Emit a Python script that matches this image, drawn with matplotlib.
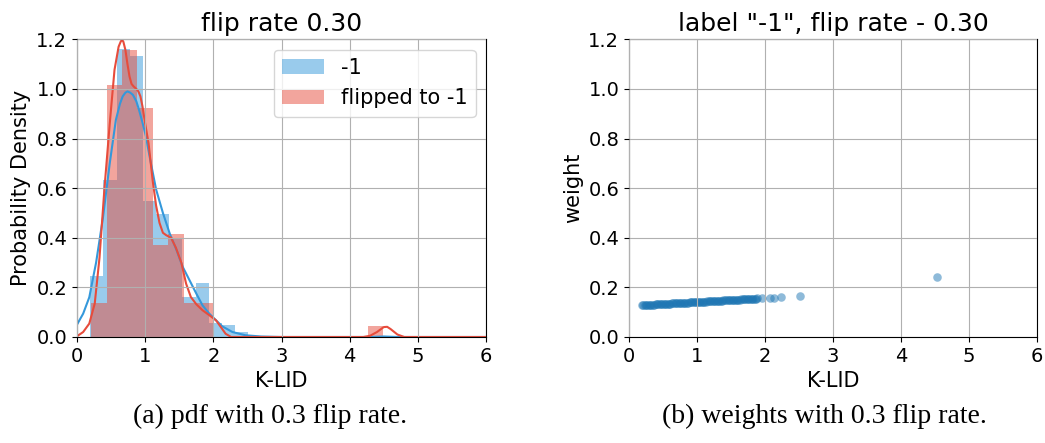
import numpy as np
import matplotlib
matplotlib.use("Agg")
import matplotlib.pyplot as plt

# histogram of K-LID for label "-1" (density)
blue_start = 0.194
blue_width = 0.1933
blue_heights = [0.245, 0.633, 1.16, 1.133, 0.55, 0.495, 0.40, 0.161, 0.218, 0.055,
                0.05, 0.02, 0, 0, 0, 0, 0, 0, 0, 0, 0, 0, 0.004]

# histogram of K-LID for samples flipped to "-1"
red_start = 0.21
red_width = 0.2255
red_heights = [0.135, 1.016, 1.155, 0.922, 0.37, 0.415, 0.135, 0.135, 0, 0,
               0, 0, 0, 0, 0, 0, 0, 0, 0.045]

# kde curves
blue_kde_x = [0.0, 0.09, 0.18, 0.28, 0.38, 0.48, 0.57, 0.63, 0.67, 0.71, 0.74, 0.78, 0.82,
              0.87, 0.91, 0.96, 1.01, 1.07, 1.16, 1.26, 1.36, 1.46, 1.55, 1.65, 1.75,
              1.84, 1.94, 2.04, 2.13, 2.28, 2.47, 2.7, 3.0, 4.3, 4.5, 4.7, 6.0]
blue_kde_y = [0.05, 0.094, 0.16, 0.30, 0.48, 0.70, 0.875, 0.94, 0.97, 0.985, 0.99, 0.985, 0.976,
              0.95, 0.915, 0.865, 0.81, 0.72, 0.595, 0.50, 0.417, 0.35, 0.283, 0.229, 0.175,
              0.128, 0.094, 0.067, 0.043, 0.020, 0.007, 0.002, 0.0, 0.0, 0.002, 0.0, 0.0]

red_kde_x = [0.0, 0.09, 0.18, 0.26, 0.33, 0.40, 0.48, 0.55, 0.61, 0.64, 0.66, 0.68, 0.71,
             0.74, 0.77, 0.80, 0.83, 0.87, 0.90, 0.93, 0.96, 1.00, 1.05, 1.11, 1.16, 1.21,
             1.26, 1.31, 1.38, 1.45, 1.53, 1.60, 1.67, 1.75, 1.84, 1.94, 2.04, 2.11,
             2.18, 2.26, 4.2, 4.3, 4.4, 4.5, 4.55, 4.6, 4.7, 4.8, 6.0]
red_kde_y = [0.003, 0.02, 0.054, 0.135, 0.32, 0.59, 0.86, 1.077, 1.17, 1.19, 1.198, 1.19, 1.157,
             1.10, 1.05, 1.02, 1.01, 1.0, 0.99, 0.97, 0.93, 0.86, 0.78, 0.63, 0.53, 0.46,
             0.42, 0.41, 0.40, 0.36, 0.30, 0.215, 0.161, 0.132, 0.108, 0.088, 0.067, 0.04,
             0.013, 0.0, 0.0, 0.005, 0.02, 0.04, 0.041, 0.032, 0.01, 0.0, 0.0]

# weights vs K-LID
klid = [0.19, 0.21, 0.23, 0.25, 0.27, 0.29, 0.31, 0.33, 0.35, 0.37,
        0.39, 0.41, 0.43, 0.45, 0.47, 0.49, 0.51, 0.53, 0.55, 0.57,
        0.59, 0.61, 0.63, 0.65, 0.67, 0.69, 0.71, 0.73, 0.75, 0.77,
        0.79, 0.81, 0.83, 0.85, 0.87, 0.89, 0.91, 0.93, 0.95, 0.97,
        0.99, 1.01, 1.03, 1.05, 1.07, 1.09, 1.11, 1.13, 1.15, 1.17,
        1.19, 1.21, 1.23, 1.25, 1.27, 1.29, 1.31, 1.33, 1.35, 1.37,
        1.39, 1.41, 1.43, 1.45, 1.47, 1.49, 1.51, 1.53, 1.55, 1.57,
        1.59, 1.61, 1.63, 1.65, 1.67, 1.69, 1.71, 1.73, 1.75, 1.77,
        1.79, 1.81, 1.83, 1.85, 1.87, 1.89,
        1.95, 2.07, 2.13, 2.24, 2.52, 4.53]
weight = [0.1280, 0.1283, 0.1286, 0.1290, 0.1293, 0.1296, 0.1299, 0.1302, 0.1306, 0.1309,
          0.1312, 0.1315, 0.1318, 0.1322, 0.1325, 0.1328, 0.1331, 0.1334, 0.1338, 0.1341,
          0.1344, 0.1347, 0.1350, 0.1354, 0.1357, 0.1360, 0.1363, 0.1366, 0.1370, 0.1373,
          0.1376, 0.1379, 0.1382, 0.1386, 0.1389, 0.1392, 0.1395, 0.1398, 0.1402, 0.1405,
          0.1408, 0.1411, 0.1414, 0.1418, 0.1421, 0.1424, 0.1427, 0.1430, 0.1434, 0.1437,
          0.1440, 0.1443, 0.1446, 0.1450, 0.1453, 0.1456, 0.1459, 0.1462, 0.1466, 0.1469,
          0.1472, 0.1475, 0.1478, 0.1482, 0.1485, 0.1488, 0.1491, 0.1494, 0.1498, 0.1501,
          0.1504, 0.1507, 0.1510, 0.1514, 0.1517, 0.1520, 0.1523, 0.1526, 0.1530, 0.1533,
          0.1536, 0.1539, 0.1542, 0.1546, 0.1549, 0.1552,
          0.156, 0.157, 0.159, 0.161, 0.167, 0.243]

blue = '#3498db'
red = '#e74c3c'

fig = plt.figure(figsize=(10.45, 4.43), dpi=100)
ax1 = fig.add_axes([0.0737, 0.2393, 0.3914, 0.672])
ax2 = fig.add_axes([0.6019, 0.2393, 0.3904, 0.672])

bl = blue_start + blue_width * np.arange(len(blue_heights))
rl = red_start + red_width * np.arange(len(red_heights))
ax1.bar(bl, blue_heights, width=blue_width, align='edge', color=blue, alpha=0.5, label='-1')
ax1.bar(rl, red_heights, width=red_width, align='edge', color=red, alpha=0.5, label='flipped to -1')
ax1.plot(blue_kde_x, blue_kde_y, color=blue, lw=1.5)
ax1.plot(red_kde_x, red_kde_y, color=red, lw=1.5)
ax1.set_xlim(0, 6)
ax1.set_ylim(0, 1.2)
ax1.set_title('flip rate 0.30', fontsize=18)
ax1.set_xlabel('K-LID', fontsize=15)
ax1.set_ylabel('Probability Density', fontsize=15)
ax1.legend(loc='upper right', fontsize=15)

ax2.scatter(klid, weight, s=38, color='#1f77b4', alpha=0.5, linewidths=0)
ax2.set_xlim(0, 6)
ax2.set_ylim(0, 1.2)
ax2.set_title('label "-1", flip rate - 0.30', fontsize=18)
ax2.set_xlabel('K-LID', fontsize=15)
ax2.set_ylabel('weight', fontsize=15)

for ax in (ax1, ax2):
    ax.grid(True)
    ax.set_axisbelow(False)
    ax.set_xticks([0, 1, 2, 3, 4, 5, 6])
    ax.set_yticks([0.0, 0.2, 0.4, 0.6, 0.8, 1.0, 1.2])
    ax.tick_params(labelsize=14)

fig.text(0.258, 0.061, '(a) pdf with 0.3 flip rate.', ha='center', va='center',
         fontsize=20, family='Liberation Serif')
fig.text(0.789, 0.061, '(b) weights with 0.3 flip rate.', ha='center', va='center',
         fontsize=20, family='Liberation Serif')

fig.savefig('out.png', dpi=100)
